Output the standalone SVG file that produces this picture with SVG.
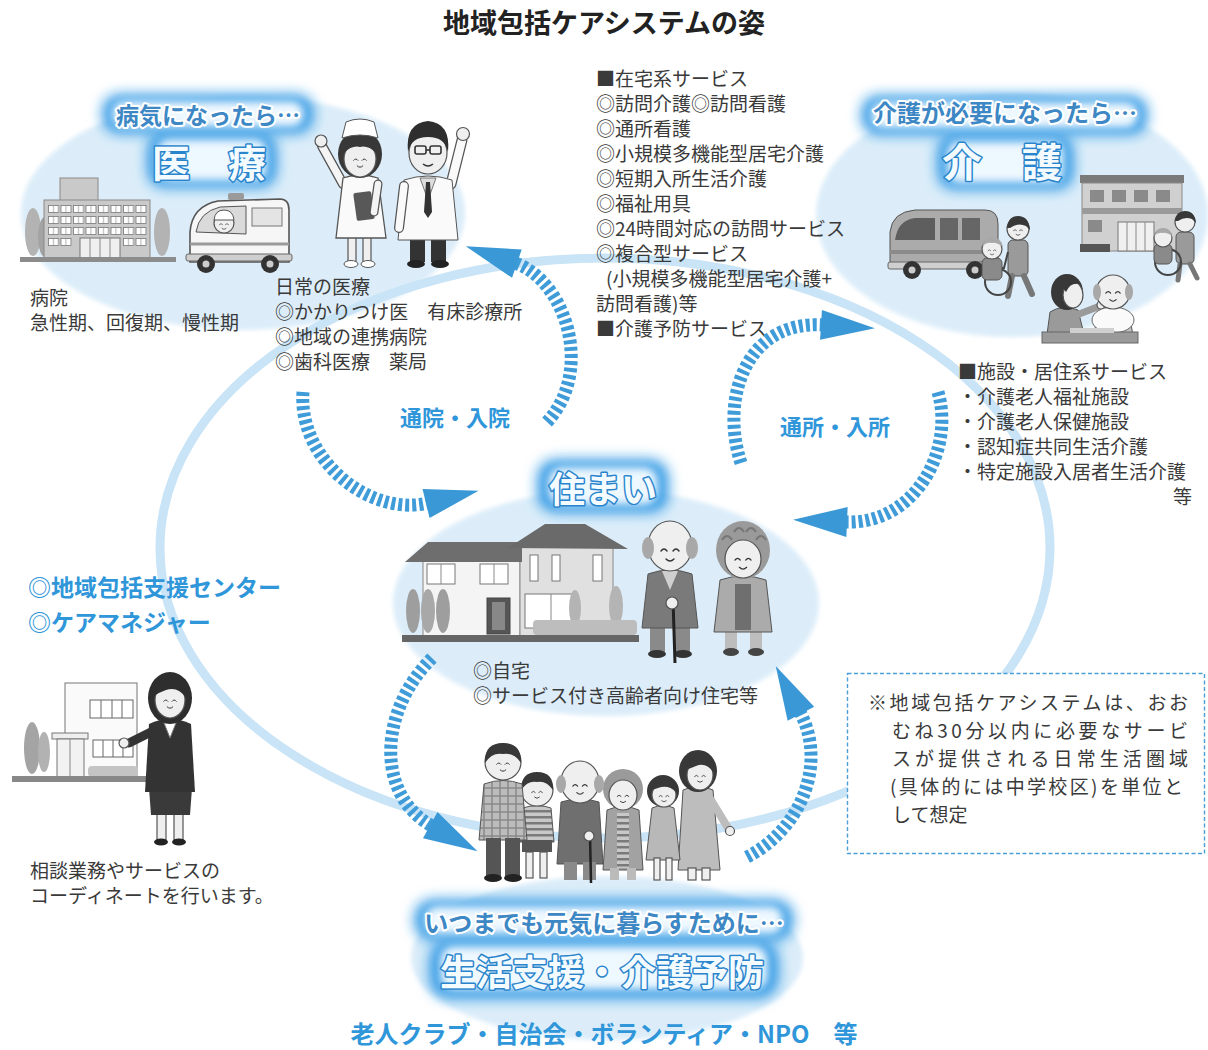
<svg xmlns="http://www.w3.org/2000/svg" xmlns:xlink="http://www.w3.org/1999/xlink" width="1208" height="1050" viewBox="0 0 1208 1050">
<defs>
<style>
 .t{font-family:"Noto Sans CJK JP","Noto Sans",sans-serif;font-size:19px;fill:#3a3a3a}
 .bl{font-family:"Noto Sans CJK JP","Noto Sans",sans-serif;font-weight:bold;fill:#2f96da}
 .sub{font-family:"Noto Sans CJK JP","Noto Sans",sans-serif;font-weight:bold;fill:#3c87c4;stroke:#fff;stroke-width:4;stroke-linejoin:round;paint-order:stroke}
 .main{font-family:"Noto Sans CJK JP","Noto Sans",sans-serif;font-weight:bold;fill:#f4fbff;stroke:#2a84cc;stroke-width:3;stroke-linejoin:round;paint-order:stroke}
 .zone{fill:#dcedf9}
 .ring{fill:none;stroke:#c9e4f6;stroke-width:9}
 .gb{fill:#1c8fe2;filter:url(#blurA)}
 .gi{fill:#eef8ff;filter:url(#blurB)}
 .flow{fill:none;stroke:#3f9cd9;stroke-width:13;stroke-dasharray:4 3;marker-end:url(#head)}
 .sk{fill:#efefef;stroke:#555;stroke-width:1.2}
 .o{stroke:#555;stroke-width:1.2}
 .hd{fill:#383838}
 .gh{fill:#a8a8a8}
</style>
<filter id="blurA" x="-40%" y="-60%" width="180%" height="220%"><feGaussianBlur stdDeviation="7"/></filter>
<filter id="blurB" x="-40%" y="-60%" width="180%" height="220%"><feGaussianBlur stdDeviation="4"/></filter>
<filter id="soft" x="-10%" y="-10%" width="120%" height="120%"><feGaussianBlur stdDeviation="2"/></filter>
<marker id="head" markerUnits="userSpaceOnUse" markerWidth="60" markerHeight="40" viewBox="-2 -20 60 40" refX="0" refY="0" orient="auto" overflow="visible">
 <path d="M-2,-15 L52,0 L-2,15 Z" fill="#3a98d6"/>
</marker>
<pattern id="win" x="48" y="205" width="12.5" height="11" patternUnits="userSpaceOnUse">
 <rect x="0.5" y="0.5" width="10" height="7" fill="#fff" stroke="#777" stroke-width="0.8"/>
 <line x1="5.5" y1="0.5" x2="5.5" y2="7.5" stroke="#777" stroke-width="0.6"/>
</pattern>
<pattern id="plaid" width="8" height="8" patternUnits="userSpaceOnUse">
 <rect width="8" height="8" fill="#bcbcbc"/><path d="M0,4H8M4,0V8" stroke="#8a8a8a" stroke-width="1.5"/>
</pattern>
<pattern id="stripe" width="6" height="6" patternUnits="userSpaceOnUse">
 <rect width="6" height="6" fill="#c8c8c8"/><rect width="6" height="2.5" fill="#7a7a7a"/>
</pattern>
<g id="face" fill="none" stroke="#333" stroke-width="1.4" stroke-linecap="round">
 <path d="M-9,-1 q3,-4 6,0 M3,-1 q3,-4 6,0 M-4,7 q4,4 8,0"/>
</g>
</defs>

<rect width="1208" height="1050" fill="#fff"/>

<!-- soft zones behind each area -->
<g id="zones">
 <ellipse class="zone" cx="243" cy="213" rx="222" ry="117" filter="url(#soft)"/>
 <ellipse class="zone" cx="1012" cy="215" rx="196" ry="122" filter="url(#soft)"/>
 <ellipse class="zone" cx="606" cy="603" rx="213" ry="113" filter="url(#soft)"/>
 <ellipse class="zone" cx="607" cy="958" rx="196" ry="82" filter="url(#soft)"/>
</g>

<!-- large circulation ring -->
<ellipse class="ring" cx="605" cy="548" rx="445" ry="290"/>

<!-- title -->
<text x="604" y="33" font-family="'Noto Sans CJK JP',sans-serif" font-size="27" font-weight="bold" text-anchor="middle" fill="#222">地域包括ケアシステムの姿</text>

<!-- medical -->
<g id="medical">
 <rect class="gb" x="103" y="95" width="210" height="38" rx="16"/>
 <rect class="gb" x="148" y="133" width="128" height="54" rx="16"/>
 <rect class="gi" x="112" y="101" width="192" height="26" rx="12"/>
 <rect class="gi" x="157" y="139" width="110" height="42" rx="12"/>
 <text class="sub" x="208" y="124" font-size="23" text-anchor="middle">病気になったら…</text>
 <text class="main" x="152" y="177" font-size="38">医　療</text>

 <g id="hospital">
  <ellipse cx="33" cy="232" rx="8" ry="24" fill="#b3b3b3"/>
  <ellipse cx="45" cy="237" rx="7" ry="20" fill="#a3a3a3"/>
  <ellipse cx="162" cy="232" rx="8" ry="24" fill="#b3b3b3"/>
  <rect x="60" y="178" width="38" height="24" fill="#c9c9c9" stroke="#8a8a8a"/>
  <rect x="44" y="200" width="106" height="58" fill="#c9c9c9" stroke="#8a8a8a"/>
  <rect x="48" y="205" width="100" height="33" fill="url(#win)"/>
  <rect x="48" y="238" width="25" height="11" fill="url(#win)"/>
  <rect x="123" y="238" width="25" height="11" fill="url(#win)"/>
  <rect x="80" y="238" width="40" height="20" fill="#efefef" stroke="#777"/>
  <path d="M90,238V258M100,238V258M110,238V258" stroke="#888"/>
  <rect x="20" y="257" width="156" height="5" fill="#8c8c8c"/>
 </g>

 <g id="ambulance">
  <path d="M190,262 L190,232 Q192,206 218,201 L280,199 Q289,199 289,210 L289,262 Z" fill="#f6f6f6" stroke="#555" stroke-width="1.6"/>
  <rect x="228" y="193" width="16" height="7" rx="2" fill="#9a9a9a"/>
  <path d="M196,232 Q199,212 220,207 L246,206 L246,234 Z" fill="#dadada" stroke="#555"/>
  <circle cx="224" cy="223" r="10" class="sk"/>
  <path d="M214,220 Q215,210 224,210 Q233,210 234,220 Z" fill="#fff" stroke="#555"/>
  <use href="#face" transform="translate(224,225) scale(.5)"/>
  <rect x="252" y="208" width="30" height="18" fill="#e4e4e4" stroke="#777"/>
  <line x1="190" y1="244" x2="289" y2="244" stroke="#9a9a9a" stroke-width="3"/>
  <rect x="186" y="254" width="106" height="7" rx="2" fill="#cfcfcf" stroke="#666"/>
  <circle cx="206" cy="264" r="9" fill="#333"/><circle cx="206" cy="264" r="3.5" fill="#ccc"/>
  <circle cx="270" cy="264" r="9" fill="#333"/><circle cx="270" cy="264" r="3.5" fill="#ccc"/>
 </g>

 <g id="nurse">
  <path d="M343,184 L322,146" stroke="#555" stroke-width="10" stroke-linecap="round"/>
  <path d="M343,184 L322,146" stroke="#f4f4f4" stroke-width="7.5" stroke-linecap="round"/>
  <circle cx="321" cy="141" r="6" class="sk"/>
  <rect x="348" y="232" width="8" height="30" class="sk"/>
  <rect x="363" y="232" width="8" height="30" class="sk"/>
  <ellipse cx="351" cy="264" rx="7" ry="3.5" fill="#fff" stroke="#555"/>
  <ellipse cx="368" cy="264" rx="7" ry="3.5" fill="#fff" stroke="#555"/>
  <path d="M343,178 Q360,172 378,178 L386,238 L336,238 Z" fill="#fafafa" stroke="#555" stroke-width="1.3"/>
  <ellipse cx="360" cy="154" rx="22" ry="24" class="hd"/>
  <ellipse cx="360" cy="159" rx="16" ry="18" class="sk"/>
  <path d="M344,153 Q346,137 360,137 Q374,137 376,153 Q368,145 360,147 Q352,145 344,153 Z" class="hd"/>
  <path d="M342,138 L346,122 Q360,116 374,122 L378,138 Q360,132 342,138 Z" fill="#fff" stroke="#555"/>
  <use href="#face" transform="translate(360,161) scale(.7)"/>
  <rect x="355" y="192" width="18" height="28" rx="2" fill="#585858" transform="rotate(-8 364 206)"/>
  <path d="M378,184 L374,212" stroke="#555" stroke-width="9" stroke-linecap="round"/>
  <path d="M378,184 L374,212" stroke="#f4f4f4" stroke-width="6.5" stroke-linecap="round"/>
 </g>

 <g id="doctor">
  <path d="M451,184 L462,140" stroke="#555" stroke-width="11" stroke-linecap="round"/>
  <path d="M451,184 L462,140" stroke="#fafafa" stroke-width="8.5" stroke-linecap="round"/>
  <circle cx="463" cy="134" r="6.5" class="sk"/>
  <rect x="410" y="236" width="15" height="26" fill="#333"/>
  <rect x="431" y="236" width="15" height="26" fill="#333"/>
  <ellipse cx="416" cy="264" rx="9" ry="4" fill="#222"/>
  <ellipse cx="440" cy="264" rx="9" ry="4" fill="#222"/>
  <path d="M404,180 Q428,172 452,180 L458,240 L398,240 Z" fill="#fafafa" stroke="#555"/>
  <path d="M420,178 L428,200 L436,178 Z" fill="#ddd" stroke="#777"/>
  <path d="M426,182 L430,182 L432,212 L428,218 L424,212 Z" fill="#333"/>
  <path d="M404,186 L399,228" stroke="#555" stroke-width="10" stroke-linecap="round"/>
  <path d="M404,186 L399,228" stroke="#fafafa" stroke-width="7.5" stroke-linecap="round"/>
  <ellipse cx="428" cy="153" rx="19" ry="21" class="sk"/>
  <path d="M408,152 Q405,123 428,121 Q451,123 448,152 Q445,137 428,137 Q411,137 408,152 Z" fill="#2e2e2e"/>
  <g fill="none" stroke="#333" stroke-width="1.6"><rect x="415" y="146" width="11" height="8" rx="2"/><rect x="430" y="146" width="11" height="8" rx="2"/><line x1="426" y1="150" x2="430" y2="150"/></g>
  <path d="M423,164 q5,4 10,0" fill="none" stroke="#333" stroke-width="1.4"/>
 </g>

 <text class="t" x="30" y="305">病院</text>
 <text class="t" x="30" y="330">急性期、回復期、慢性期</text>
 <text class="t" x="275" y="294">日常の医療</text>
 <text class="t" x="275" y="319">◎かかりつけ医　有床診療所</text>
 <text class="t" x="275" y="344">◎地域の連携病院</text>
 <text class="t" x="275" y="369">◎歯科医療　薬局</text>
</g>

<!-- home-based services list -->
<g id="home-services">
 <text class="t" x="596" y="86">■在宅系サービス</text>
 <text class="t" x="596" y="111">◎訪問介護◎訪問看護</text>
 <text class="t" x="596" y="136">◎通所看護</text>
 <text class="t" x="596" y="161">◎小規模多機能型居宅介護</text>
 <text class="t" x="596" y="186">◎短期入所生活介護</text>
 <text class="t" x="596" y="211">◎福祉用具</text>
 <text class="t" x="596" y="236">◎24時間対応の訪問サービス</text>
 <text class="t" x="596" y="261">◎複合型サービス</text>
 <text class="t" x="606" y="286">(小規模多機能型居宅介護+</text>
 <text class="t" x="596" y="311">訪問看護)等</text>
 <text class="t" x="596" y="336">■介護予防サービス</text>
</g>

<!-- long-term care -->
<g id="care">
 <rect class="gb" x="862" y="96" width="285" height="38" rx="16"/>
 <rect class="gb" x="938" y="135" width="135" height="54" rx="16"/>
 <rect class="gi" x="871" y="102" width="267" height="26" rx="12"/>
 <rect class="gi" x="947" y="141" width="117" height="42" rx="12"/>
 <text class="sub" x="1005" y="122" font-size="24" text-anchor="middle">介護が必要になったら…</text>
 <text class="main" x="942" y="177" font-size="40">介　護</text>

 <g id="care-van">
  <path d="M890,268 L890,232 Q892,212 915,210 L985,210 Q998,210 998,224 L998,268 Z" fill="#ababab" stroke="#555"/>
  <path d="M895,240 Q898,220 915,218 L935,218 L935,240 Z" fill="#5e5e5e"/>
  <rect x="940" y="218" width="18" height="22" fill="#666"/>
  <rect x="962" y="218" width="18" height="22" fill="#666"/>
  <rect x="890" y="250" width="108" height="4" fill="#8a8a8a"/>
  <rect x="888" y="262" width="112" height="7" rx="2" fill="#cfcfcf" stroke="#666"/>
  <circle cx="912" cy="270" r="9" fill="#333"/><circle cx="912" cy="270" r="3.5" fill="#ccc"/>
  <circle cx="975" cy="270" r="9" fill="#333"/><circle cx="975" cy="270" r="3.5" fill="#ccc"/>
 </g>
 <g id="wheelchair-a">
  <rect x="1008" y="240" width="20" height="36" rx="5" fill="#9a9a9a" stroke="#555"/>
  <path d="M1012,276 L1008,296 M1024,276 L1032,294" stroke="#777" stroke-width="6" stroke-linecap="round"/>
  <circle cx="1018" cy="229" r="11" class="sk"/>
  <path d="M1007,228 Q1008,216 1018,216 Q1029,216 1030,230 L1026,226 Q1018,222 1010,228 Z" class="hd"/>
  <use href="#face" transform="translate(1018,231) scale(.5)"/>
  <circle cx="998" cy="282" r="13" fill="none" stroke="#444" stroke-width="2"/>
  <path d="M982,268 L1004,268 L1008,252" fill="none" stroke="#444" stroke-width="2"/>
  <rect x="982" y="258" width="20" height="22" rx="5" fill="#8a8a8a" stroke="#555"/>
  <circle cx="992" cy="249" r="10" class="sk"/>
  <path d="M982,247 Q984,237 992,237 Q1001,237 1003,247 Q996,242 992,243 Q986,242 982,247 Z" class="gh"/>
  <use href="#face" transform="translate(992,251) scale(.45)"/>
 </g>
 <g id="care-home">
  <rect x="1080" y="175" width="104" height="8" fill="#7a7a7a"/>
  <rect x="1082" y="183" width="100" height="68" fill="#d0d0d0" stroke="#888"/>
  <rect x="1090" y="190" width="14" height="12" fill="#8a8a8a"/>
  <rect x="1112" y="190" width="14" height="12" fill="#8a8a8a"/>
  <rect x="1134" y="190" width="14" height="12" fill="#8a8a8a"/>
  <rect x="1156" y="190" width="14" height="12" fill="#8a8a8a"/>
  <rect x="1082" y="208" width="100" height="6" fill="#9a9a9a"/>
  <rect x="1088" y="220" width="14" height="12" fill="#8a8a8a"/>
  <rect x="1118" y="222" width="36" height="29" fill="#f0f0f0" stroke="#777"/>
  <path d="M1127,222V251M1136,222V251M1145,222V251" stroke="#888"/>
  <rect x="1080" y="244" width="30" height="8" fill="#555"/>
 </g>
 <g id="wheelchair-b">
  <rect x="1176" y="232" width="18" height="32" rx="5" fill="#9a9a9a" stroke="#555"/>
  <path d="M1180,264 L1178,280 M1190,264 L1197,278" stroke="#777" stroke-width="5" stroke-linecap="round"/>
  <circle cx="1185" cy="222" r="10" class="sk"/>
  <path d="M1175,221 Q1176,211 1185,211 Q1195,211 1196,223 L1192,219 Q1185,216 1178,221 Z" class="hd"/>
  <circle cx="1168" cy="262" r="13" fill="none" stroke="#444" stroke-width="2"/>
  <rect x="1154" y="244" width="18" height="20" rx="5" fill="#8a8a8a" stroke="#555"/>
  <circle cx="1163" cy="238" r="9" class="sk"/>
  <path d="M1154,236 Q1156,228 1163,228 Q1171,228 1172,236 Q1166,232 1163,233 Q1158,232 1154,236 Z" class="gh"/>
 </g>
 <g id="feeding">
  <path d="M1046,342 L1050,312 Q1062,304 1078,310 L1086,342 Z" fill="#9a9a9a" stroke="#555"/>
  <path d="M1074,316 L1100,306" stroke="#9a9a9a" stroke-width="7" stroke-linecap="round"/>
  <circle cx="1101" cy="305" r="4" class="sk"/>
  <ellipse cx="1067" cy="292" rx="16" ry="18" class="hd"/>
  <ellipse cx="1073" cy="295" rx="10" ry="13" class="sk"/>
  <path d="M1058,282 Q1066,274 1080,284 Q1070,282 1066,292 Z" class="hd"/>
  <path d="M1094,342 L1096,318 Q1112,308 1130,318 L1134,342 Z" fill="#c2c2c2" stroke="#555"/>
  <ellipse cx="1113" cy="320" rx="21" ry="13" fill="#fafafa" stroke="#666"/>
  <circle cx="1113" cy="292" r="17" class="sk"/>
  <ellipse cx="1097" cy="292" rx="4" ry="8" class="gh"/>
  <ellipse cx="1129" cy="292" rx="4" ry="8" class="gh"/>
  <use href="#face" transform="translate(1113,294) scale(.8)"/>
  <rect x="1042" y="332" width="96" height="11" fill="#9a9a9a" stroke="#666"/>
  <rect x="1070" y="328" width="44" height="5" fill="#cfcfcf"/>
 </g>

 <text class="t" x="958" y="379">■施設・居住系サービス</text>
 <text class="t" x="958" y="404">・介護老人福祉施設</text>
 <text class="t" x="958" y="429">・介護老人保健施設</text>
 <text class="t" x="958" y="454">・認知症共同生活介護</text>
 <text class="t" x="958" y="479">・特定施設入居者生活介護</text>
 <text class="t" x="1192" y="504" text-anchor="end">等</text>
</g>

<!-- housing -->
<g id="housing">
 <rect class="gb" x="538" y="460" width="130" height="52" rx="18"/>
 <rect class="gi" x="548" y="467" width="110" height="38" rx="14"/>
 <text class="main" x="603" y="503" font-size="36" text-anchor="middle">住まい</text>

 <g id="house">
  <rect x="423" y="558" width="97" height="79" fill="#f4f4f4" stroke="#888"/>
  <rect x="520" y="543" width="93" height="94" fill="#e0e0e0" stroke="#888"/>
  <polygon points="405,562 428,542 522,542 522,562" fill="#6e6e6e"/>
  <polygon points="508,548 545,524 585,524 628,549" fill="#6a6a6a"/>
  <g fill="#fff" stroke="#777">
   <rect x="427" y="564" width="28" height="20"/><rect x="480" y="564" width="28" height="20"/>
   <rect x="530" y="555" width="8" height="26"/><rect x="552" y="555" width="8" height="26"/><rect x="593" y="555" width="9" height="26"/>
   <rect x="525" y="594" width="52" height="34"/>
  </g>
  <path d="M441,564V584M494,564V584M551,594V628" stroke="#888"/>
  <rect x="487" y="598" width="23" height="36" fill="#555" stroke="#444"/>
  <rect x="492" y="602" width="13" height="28" fill="#888"/>
  <ellipse cx="413" cy="611" rx="7" ry="22" fill="#9e9e9e"/>
  <ellipse cx="428" cy="611" rx="7" ry="22" fill="#a8a8a8"/>
  <ellipse cx="443" cy="611" rx="7" ry="22" fill="#9e9e9e"/>
  <ellipse cx="575" cy="608" rx="6" ry="18" fill="#b4b4b4"/>
  <ellipse cx="616" cy="606" rx="7" ry="20" fill="#b4b4b4"/>
  <rect x="533" y="620" width="104" height="15" rx="4" fill="#bdbdbd"/>
  <rect x="402" y="635" width="237" height="7" fill="#666"/>
 </g>

 <g id="grandpa">
  <rect x="650" y="624" width="15" height="28" fill="#8a8a8a"/>
  <rect x="675" y="624" width="15" height="28" fill="#8a8a8a"/>
  <ellipse cx="657" cy="654" rx="9" ry="4" fill="#333"/>
  <ellipse cx="683" cy="654" rx="9" ry="4" fill="#333"/>
  <path d="M648,574 Q670,566 692,574 L698,628 L642,628 Z" fill="#7a7a7a" stroke="#555"/>
  <path d="M662,571 L670,590 L678,571 Z" fill="#cfcfcf"/>
  <line x1="673" y1="600" x2="675" y2="663" stroke="#222" stroke-width="3"/>
  <circle cx="672" cy="603" r="6" class="sk"/>
  <ellipse cx="670" cy="546" rx="22" ry="25" class="sk"/>
  <ellipse cx="648" cy="548" rx="6" ry="11" class="gh"/>
  <ellipse cx="692" cy="548" rx="6" ry="11" class="gh"/>
  <use href="#face" transform="translate(670,552)"/>
 </g>
 <g id="grandma">
  <rect x="725" y="628" width="12" height="22" fill="#bdbdbd"/>
  <rect x="750" y="628" width="12" height="22" fill="#bdbdbd"/>
  <ellipse cx="731" cy="652" rx="8" ry="4" fill="#444"/>
  <ellipse cx="756" cy="652" rx="8" ry="4" fill="#444"/>
  <path d="M720,580 Q743,572 766,580 L772,632 L714,632 Z" fill="#ababab" stroke="#555"/>
  <rect x="735" y="584" width="16" height="46" fill="#6f6f6f"/>
  <ellipse cx="743" cy="550" rx="27" ry="29" fill="#9a9a9a"/>
  <path d="M722,540 q5,-8 10,0 M734,532 q5,-8 10,0 M746,532 q5,-8 10,0 M756,540 q5,-8 10,0" fill="none" stroke="#777" stroke-width="2"/>
  <ellipse cx="743" cy="559" rx="18" ry="19" class="sk"/>
  <use href="#face" transform="translate(743,561) scale(.9)"/>
 </g>

 <text class="t" x="473" y="678">◎自宅</text>
 <text class="t" x="473" y="703">◎サービス付き高齢者向け住宅等</text>
</g>

<!-- care-manager / support centre -->
<g id="support-center">
 <text class="bl" x="28" y="596" font-size="23">◎地域包括支援センター</text>
 <text class="bl" x="28" y="631" font-size="23">◎ケアマネジャー</text>
 <g id="office">
  <ellipse cx="32" cy="748" rx="8" ry="26" fill="#a4a4a4"/>
  <ellipse cx="44" cy="752" rx="6" ry="20" fill="#b2b2b2"/>
  <rect x="65" y="683" width="72" height="95" fill="#fafafa" stroke="#777"/>
  <rect x="90" y="700" width="43" height="18" fill="#fff" stroke="#666"/>
  <path d="M101,700V718M112,700V718M122,700V718" stroke="#666"/>
  <rect x="93" y="740" width="40" height="17" fill="#fff" stroke="#666"/>
  <path d="M103,740V757M113,740V757M123,740V757" stroke="#666"/>
  <rect x="52" y="733" width="36" height="6" fill="#eee" stroke="#777"/>
  <rect x="57" y="739" width="27" height="38" fill="#f2f2f2" stroke="#777"/>
  <path d="M70,739V777" stroke="#888"/>
  <rect x="88" y="766" width="50" height="11" rx="4" fill="#c4c4c4"/>
  <rect x="12" y="776" width="146" height="6" fill="#888"/>
 </g>
 <g id="manager">
  <rect x="157" y="812" width="9" height="28" class="sk"/>
  <rect x="174" y="812" width="9" height="28" class="sk"/>
  <ellipse cx="161" cy="842" rx="7" ry="3.5" fill="#222"/>
  <ellipse cx="179" cy="842" rx="7" ry="3.5" fill="#222"/>
  <path d="M149,788 L192,788 L190,815 L151,815 Z" fill="#3a3a3a"/>
  <path d="M149,724 Q170,714 191,724 L195,792 L145,792 Z" fill="#333"/>
  <polygon points="162,718 178,718 170,738" fill="#fff" stroke="#777"/>
  <path d="M153,731 L129,743" stroke="#333" stroke-width="9" stroke-linecap="round"/>
  <circle cx="124" cy="743" r="5" class="sk"/>
  <ellipse cx="170" cy="698" rx="22" ry="26" fill="#2e2e2e"/>
  <ellipse cx="170" cy="700" rx="15" ry="18" class="sk"/>
  <path d="M154,696 Q156,680 170,680 Q186,680 186,698 Q178,686 166,690 Q160,692 154,696 Z" fill="#2e2e2e"/>
  <use href="#face" transform="translate(170,702) scale(.7)"/>
 </g>
 <text class="t" x="30" y="878" font-size="18.5">相談業務やサービスの</text>
 <text class="t" x="30" y="903" font-size="18.5">コーディネートを行います。</text>
</g>

<!-- everyday life support -->
<g id="life-support">
 <g id="family">
  <!-- mother -->
  <path d="M690,770 Q702,790 698,812" stroke="#383838" stroke-width="8" fill="none" stroke-linecap="round"/>
  <path d="M683,790 Q698,783 713,790 L720,870 L678,870 Z" fill="#bdbdbd" stroke="#555"/>
  <path d="M711,800 L728,828" stroke="#bdbdbd" stroke-width="8" stroke-linecap="round"/>
  <circle cx="730" cy="831" r="4.5" class="sk"/>
  <rect x="688" y="868" width="8" height="12" class="sk"/><rect x="702" y="868" width="8" height="12" class="sk"/>
  <ellipse cx="698" cy="771" rx="19" ry="21" class="hd"/>
  <ellipse cx="700" cy="775" rx="13" ry="15" class="sk"/>
  <path d="M686,770 Q690,756 702,757 Q714,758 713,772 Q706,762 696,766 Z" class="hd"/>
  <use href="#face" transform="translate(700,777) scale(.6)"/>
  <!-- girl -->
  <path d="M652,808 Q663,803 674,808 L680,860 L646,860 Z" fill="#b8b8b8" stroke="#555"/>
  <rect x="654" y="858" width="6" height="22" class="sk"/><rect x="666" y="858" width="6" height="22" class="sk"/>
  <circle cx="663" cy="791" r="16" class="hd"/>
  <ellipse cx="664" cy="795" rx="12" ry="12" class="sk"/>
  <path d="M652,790 Q655,779 665,779 Q676,780 676,792 Q668,784 658,788 Z" class="hd"/>
  <use href="#face" transform="translate(664,797) scale(.55)"/>
  <!-- grandma -->
  <path d="M607,810 Q623,803 639,810 L643,870 L603,870 Z" fill="#a2a2a2" stroke="#555"/>
  <rect x="617" y="812" width="12" height="56" fill="url(#stripe)"/>
  <rect x="610" y="868" width="9" height="12" fill="#bbb"/><rect x="627" y="868" width="9" height="12" fill="#bbb"/>
  <circle cx="623" cy="789" r="20" fill="#9a9a9a"/>
  <ellipse cx="623" cy="795" rx="14" ry="15" class="sk"/>
  <use href="#face" transform="translate(623,797) scale(.65)"/>
  <!-- grandpa -->
  <path d="M561,802 Q580,796 599,802 L603,864 L557,864 Z" fill="#6f6f6f" stroke="#555"/>
  <rect x="564" y="862" width="13" height="18" fill="#8a8a8a"/><rect x="583" y="862" width="13" height="18" fill="#8a8a8a"/>
  <line x1="590" y1="835" x2="591" y2="883" stroke="#222" stroke-width="2.5"/>
  <circle cx="589" cy="836" r="5" class="sk"/>
  <ellipse cx="580" cy="782" rx="19" ry="21" class="sk"/>
  <ellipse cx="561" cy="784" rx="5" ry="9" class="gh"/>
  <ellipse cx="599" cy="784" rx="5" ry="9" class="gh"/>
  <use href="#face" transform="translate(580,787) scale(.8)"/>
  <!-- boy -->
  <path d="M523,808 Q537,803 551,808 L554,842 L520,842 Z" fill="url(#stripe)" stroke="#555"/>
  <rect x="522" y="840" width="30" height="12" fill="#555"/>
  <rect x="526" y="852" width="7" height="26" class="sk"/><rect x="540" y="852" width="7" height="26" class="sk"/>
  <circle cx="537" cy="790" r="16" class="sk"/>
  <path d="M521,790 Q521,772 537,772 Q554,772 553,790 Q546,780 537,782 Q528,780 521,790 Z" class="hd"/>
  <use href="#face" transform="translate(537,793) scale(.6)"/>
  <!-- father -->
  <path d="M484,784 Q503,777 522,784 L527,840 L479,840 Z" fill="url(#plaid)" stroke="#555"/>
  <rect x="486" y="838" width="15" height="38" fill="#555"/><rect x="505" y="838" width="15" height="38" fill="#555"/>
  <ellipse cx="493" cy="878" rx="9" ry="4" fill="#222"/><ellipse cx="513" cy="878" rx="9" ry="4" fill="#222"/>
  <circle cx="503" cy="762" r="18" class="sk"/>
  <path d="M485,763 Q484,743 503,743 Q522,743 521,763 Q514,752 503,754 Q492,752 485,763 Z" class="hd"/>
  <use href="#face" transform="translate(503,765) scale(.7)"/>
 </g>

 <rect class="gb" x="415" y="900" width="378" height="40" rx="18"/>
 <rect class="gb" x="430" y="940" width="348" height="58" rx="20"/>
 <rect class="gi" x="425" y="906" width="358" height="28" rx="12"/>
 <rect class="gi" x="440" y="946" width="328" height="44" rx="14"/>
 <text class="sub" x="604" y="932" font-size="24" text-anchor="middle">いつまでも元気に暮らすために…</text>
 <text class="main" x="602" y="986" font-size="36" text-anchor="middle">生活支援・介護予防</text>
 <text class="bl" x="604" y="1043" font-size="24" text-anchor="middle">老人クラブ・自治会・ボランティア・NPO　等</text>
</g>

<!-- note -->
<g id="note">
 <rect x="847.5" y="673.5" width="357" height="180" fill="#fff" stroke="#4a9fd6" stroke-width="1.4" stroke-dasharray="4 2.5"/>
 <text class="t" x="868" y="710" font-size="20" textLength="320" lengthAdjust="spacing">※地域包括ケアシステムは、おお</text>
 <text class="t" x="892" y="738" font-size="20" textLength="296" lengthAdjust="spacing">むね30分以内に必要なサービ</text>
 <text class="t" x="892" y="766" font-size="20" textLength="296" lengthAdjust="spacing">スが提供される日常生活圏域</text>
 <text class="t" x="890" y="794" font-size="20" textLength="293" lengthAdjust="spacing">(具体的には中学校区)を単位と</text>
 <text class="t" x="892" y="822" font-size="20">して想定</text>
</g>

<!-- flows between the home and each service -->
<g id="connectors">
 <path class="flow" d="M303,392 C298,460 370,517 428,503"/>
 <path class="flow" d="M547,422 C595,370 565,280 515,263"/>
 <path class="flow" d="M741,463 C720,400 745,320 823,325"/>
 <path class="flow" d="M938,392 C955,450 915,525 845,522"/>
 <path class="flow" d="M432,658 C378,712 376,795 432,826"/>
 <path class="flow" d="M747,857 C800,830 828,765 800,712"/>
 <text class="bl" x="400" y="426" font-size="22">通院・入院</text>
 <text class="bl" x="780" y="435" font-size="22">通所・入所</text>
</g>
</svg>
